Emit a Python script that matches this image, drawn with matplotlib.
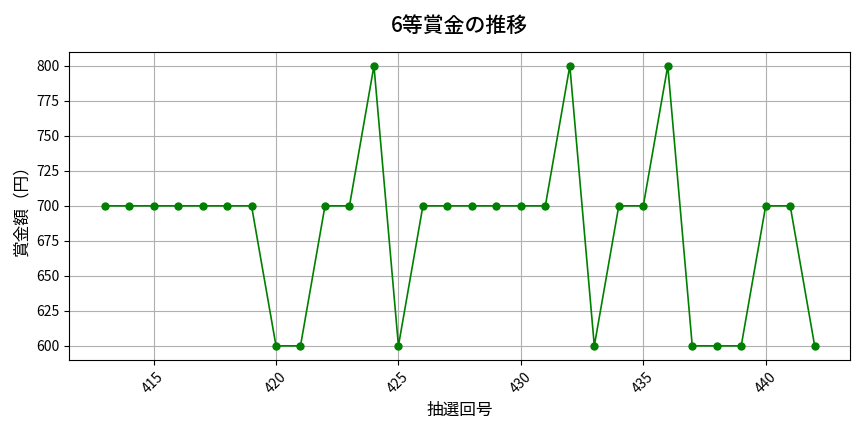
import matplotlib.pyplot as plt

plt.rcParams['font.family'] = ['Noto Sans CJK JP', 'DejaVu Sans']

# 抽選回号と6等賞金
draws = list(range(413, 443))
prizes = [700, 700, 700, 700, 700, 700, 700, 600, 600, 700,
          700, 800, 600, 700, 700, 700, 700, 700, 700, 800,
          600, 700, 700, 800, 600, 600, 600, 700, 700, 600]

fig, ax = plt.subplots(figsize=(8.64, 4.32), dpi=100)
ax.plot(draws, prizes, marker='o', color='green', markersize=5, linewidth=1.2)
ax.set_title('6等賞金の推移', fontsize=15, fontweight='medium', pad=14)
ax.set_xlabel('抽選回号', fontsize=12)
ax.set_ylabel('賞金額（円）', fontsize=12)
ax.grid(True, color='#b0b0b0', linewidth=0.8)
plt.setp(ax.get_xticklabels(), rotation=45)
fig.subplots_adjust(left=0.080, right=0.984, top=0.880, bottom=0.167)
plt.savefig('out.png')
